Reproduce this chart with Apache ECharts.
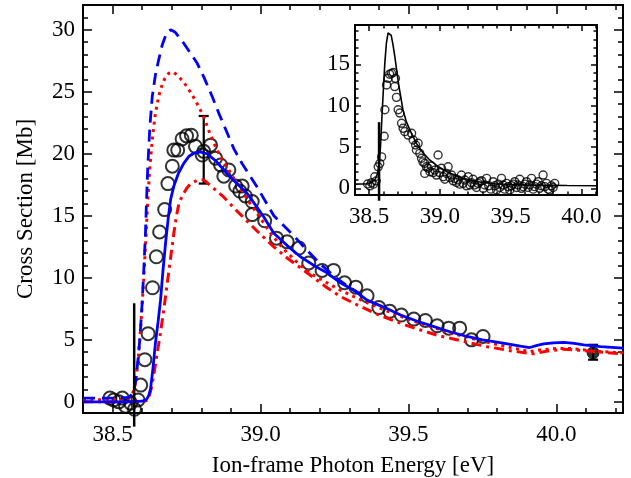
<!DOCTYPE html>
<html>
<head>
<meta charset="utf-8">
<script src="https://cdn.jsdelivr.net/npm/echarts@6/dist/echarts.min.js"></script>
<style>html,body{margin:0;padding:0;background:#fff}#c{width:631px;height:478px}</style>
</head>
<body>
<div id="c"></div>
<script>
// ---------- data ----------
const xMajorTicks = [38.5, 39.0, 39.5, 40.0];
const xMinorTicks = [38.4, 38.6, 38.7, 38.8, 38.9, 39.1, 39.2, 39.3, 39.4, 39.6, 39.7, 39.8, 39.9, 40.1, 40.2];
const yMajorTicks = [0, 5, 10, 15, 20, 25, 30];
const yMinorTicks = [1, 2, 3, 4, 6, 7, 8, 9, 11, 12, 13, 14, 16, 17, 18, 19, 21, 22, 23, 24, 26, 27, 28, 29, 31];
const insetYMajorTicks = [0, 5, 10, 15];
const insetYMinorTicks = [1, 2, 3, 4, 6, 7, 8, 9, 11, 12, 13, 14, 16, 17, 18, 19];

const blueSolid = [[38.40,0.0],[38.55,0.0],[38.60,0.05],[38.615,0.2],[38.622,0.5],[38.628,1.0],[38.636,2.6],[38.645,4.8],[38.654,6.5],[38.662,8.2],[38.670,10.5],[38.679,12.8],[38.688,14.8],[38.696,16.3],[38.707,17.4],[38.722,18.4],[38.741,19.25],[38.758,19.8],[38.775,20.05],[38.795,20.15],[38.82,20.0],[38.85,19.4],[38.887,18.4],[38.92,17.6],[38.955,16.8],[38.985,15.8],[39.011,14.9],[39.045,13.6],[39.09,12.6],[39.135,11.7],[39.18,11.0],[39.225,10.4],[39.27,9.6],[39.315,9.0],[39.36,8.2],[39.42,7.6],[39.473,7.0],[39.53,6.5],[39.586,6.07],[39.64,5.65],[39.698,5.27],[39.75,5.0],[39.788,4.86],[39.84,4.65],[39.878,4.5],[39.91,4.38],[39.935,4.55],[39.957,4.68],[39.99,4.76],[40.025,4.8],[40.06,4.72],[40.092,4.6],[40.149,4.46],[40.225,4.33]];
const blueDashed = [[38.40,0.3],[38.50,0.3],[38.555,0.35],[38.568,0.7],[38.578,1.6],[38.585,3.2],[38.592,5.0],[38.600,8.0],[38.606,10.9],[38.611,13.5],[38.614,15.75],[38.619,19.0],[38.626,22.2],[38.634,24.6],[38.645,26.4],[38.656,27.6],[38.668,28.8],[38.682,29.7],[38.696,30.0],[38.712,29.8],[38.741,28.9],[38.786,27.3],[38.81,26.1],[38.837,24.6],[38.862,23.1],[38.887,21.7],[38.91,20.4],[38.938,19.2],[38.965,18.2],[38.989,17.3],[39.045,15.0],[39.112,13.4],[39.158,12.2],[39.203,11.1],[39.25,10.1],[39.29,9.4],[39.33,8.8],[39.36,8.2]];
const redDotted = [[38.40,0.15],[38.55,0.2],[38.565,0.5],[38.575,1.2],[38.585,3.0],[38.595,6.0],[38.605,9.8],[38.612,13.0],[38.619,16.3],[38.625,18.6],[38.631,20.3],[38.638,22.0],[38.645,23.3],[38.654,24.4],[38.662,25.2],[38.675,26.0],[38.69,26.5],[38.705,26.6],[38.725,26.2],[38.752,25.4],[38.78,24.3],[38.808,23.0],[38.831,21.5],[38.855,20.2],[38.88,19.2],[38.91,18.0],[38.94,16.9],[38.97,15.8],[39.0,14.8],[39.04,13.4],[39.079,12.3],[39.13,11.1],[39.18,10.2],[39.27,9.0],[39.35,8.1],[39.45,7.1],[39.55,6.25],[39.65,5.5],[39.75,4.9],[39.85,4.35],[39.91,4.05],[39.95,4.2],[40.0,4.3],[40.05,4.3],[40.126,4.1],[40.225,3.95]];
const redDashDot = [[38.40,0.0],[38.60,0.0],[38.615,0.1],[38.623,0.4],[38.632,1.2],[38.64,2.3],[38.65,3.8],[38.662,5.6],[38.674,7.6],[38.685,9.6],[38.696,11.6],[38.707,13.6],[38.716,15.0],[38.724,16.0],[38.735,16.6],[38.75,17.2],[38.764,17.6],[38.79,17.9],[38.808,17.9],[38.842,17.2],[38.876,16.5],[38.92,15.4],[38.966,14.3],[39.0,13.5],[39.045,12.5],[39.09,11.6],[39.135,10.8],[39.18,10.0],[39.225,9.2],[39.27,8.5],[39.315,7.95],[39.4,7.0],[39.5,6.1],[39.6,5.35],[39.7,4.8],[39.765,4.45],[39.85,4.1],[39.923,3.87],[39.97,4.1],[40.025,4.25],[40.08,4.15],[40.126,4.06],[40.225,3.87]];
const mainCircles = [[38.491,0.3],[38.504,0.15],[38.521,0.0],[38.533,0.3],[38.544,-0.35],[38.561,-0.1],[38.574,-0.6],[38.586,0.15],[38.595,1.35],[38.609,3.4],[38.62,5.5],[38.635,9.2],[38.648,11.7],[38.659,13.7],[38.676,15.5],[38.687,17.6],[38.702,19.0],[38.707,20.3],[38.72,20.3],[38.735,21.2],[38.75,21.45],[38.766,21.5],[38.78,20.6],[38.803,19.9],[38.808,20.2],[38.831,20.7],[38.848,19.65],[38.865,19.1],[38.876,18.2],[38.893,18.7],[38.916,17.4],[38.93,17.0],[38.938,17.4],[38.949,16.6],[38.972,16.15],[38.972,15.1],[39.014,14.6],[39.054,13.2],[39.09,12.9],[39.13,12.4],[39.163,11.2],[39.208,10.6],[39.247,10.6],[39.284,9.6],[39.322,9.25],[39.36,8.55],[39.4,7.6],[39.437,7.3],[39.476,7.0],[39.518,6.67],[39.557,6.56],[39.597,6.13],[39.636,5.94],[39.673,5.94],[39.713,5.0],[39.752,5.27]];
const filledPoint = [[40.124, 3.95]];
const errorBars = [[38.808, 17.6, 23.05], [40.124, 3.4, 4.6]];
const threshold = [[38.573, -2.0, 7.95]];

const insetCurve = [[38.40,0.5],[38.5,0.55],[38.54,1.0],[38.56,1.8],[38.572,3.2],[38.58,5.0],[38.59,8.5],[38.60,11.8],[38.611,15.2],[38.622,17.6],[38.634,18.8],[38.645,19.0],[38.656,18.5],[38.668,17.4],[38.681,16.0],[38.695,14.2],[38.71,12.4],[38.74,9.4],[38.764,8.0],[38.8,6.6],[38.835,5.4],[38.88,4.3],[38.93,3.4],[38.99,2.6],[39.05,2.0],[39.13,1.4],[39.21,1.0],[39.3,0.7],[39.4,0.52],[39.6,0.4],[39.9,0.33],[40.11,0.3]];
const insetCircles = [[38.489,0.52],[38.505,0.3],[38.517,0.68],[38.53,0.5],[38.54,1.4],[38.55,0.9],[38.564,2.6],[38.575,3.0],[38.588,3.8],[38.606,6.3],[38.611,9.5],[38.623,12.5],[38.634,13.3],[38.645,13.8],[38.658,13.9],[38.67,14.0],[38.681,12.3],[38.686,13.3],[38.693,11.0],[38.705,9.5],[38.717,9.1],[38.729,7.86],[38.74,7.26],[38.752,6.85],[38.775,6.44],[38.8,6.65],[38.811,5.84],[38.828,5.24],[38.834,4.63],[38.846,5.44],[38.858,4.23],[38.87,3.63],[38.88,3.2],[38.893,3.02],[38.893,1.8],[38.905,2.6],[38.917,2.42],[38.93,2.0],[38.94,2.7],[38.952,1.9],[38.964,2.2],[38.976,1.6],[38.987,4.03],[38.998,1.9],[39.011,2.42],[39.023,1.4],[39.035,1.1],[39.047,1.8],[39.058,2.6],[39.07,1.3],[39.082,1.6],[39.094,0.9],[39.105,1.2],[39.117,0.7],[39.129,1.0],[39.14,0.5],[39.152,1.6],[39.164,0.6],[39.176,1.0],[39.188,0.3],[39.2,1.4],[39.212,0.4],[39.223,0.68],[39.234,1.1],[39.246,0.4],[39.258,0.1],[39.27,0.6],[39.282,0.8],[39.294,0.92],[39.306,0.0],[39.318,0.4],[39.33,1.2],[39.345,0.3],[39.36,-0.1],[39.376,0.8],[39.388,0.3],[39.4,-0.2],[39.412,0.5],[39.423,0.1],[39.435,1.2],[39.447,0.4],[39.458,-0.1],[39.47,0.6],[39.482,0.2],[39.494,-0.2],[39.505,0.3],[39.517,0.5],[39.529,0.8],[39.541,0.1],[39.552,0.4],[39.564,1.1],[39.576,0.0],[39.588,0.2],[39.6,0.5],[39.612,0.8],[39.623,0.1],[39.635,0.4],[39.647,1.2],[39.659,-0.1],[39.67,0.2],[39.682,0.5],[39.694,0.8],[39.705,0.0],[39.717,0.3],[39.729,1.6],[39.741,0.2],[39.753,0.6],[39.765,-0.1],[39.776,-0.2],[39.788,0.3],[39.8,0.1],[39.811,0.6]];
const insetThreshold = [[38.57, -1.5, 8.0]];

const xTitle = 'Ion-frame Photon Energy [eV]';
const yTitle = 'Cross Section [Mb]';

// ---------- chart ----------
const FONT = 'Liberation Serif';
const FS = 23;
const MAIN = {x: [38.4, 40.225], y: [-0.9, 32.0]};
const INSET = {x: [38.4, 40.11], y: [-0.81, 19.75]};

function xAx(grid, rng, pos, ticks, len, labelVals, name) {
  const a = {
    type: 'value', gridIndex: grid, min: rng[0], max: rng[1], position: pos,
    axisLine: {show: true, onZero: false, lineStyle: {color: '#000', width: 2}},
    axisTick: {show: true, inside: true, length: len, customValues: ticks, lineStyle: {color: '#000', width: 1.5}},
    axisLabel: labelVals ? {show: true, customValues: labelVals, formatter: v => Number(v).toFixed(1), color: '#000', fontFamily: FONT, fontSize: FS, margin: 10} : {show: false},
    splitLine: {show: false}
  };
  if (name) {
    a.name = name; a.nameLocation = 'middle'; a.nameGap = 41;
    a.nameTextStyle = {color: '#000', fontFamily: FONT, fontSize: FS};
  }
  return a;
}
function yAx(grid, rng, pos, ticks, len, labelVals, margin, name) {
  const a = {
    type: 'value', gridIndex: grid, min: rng[0], max: rng[1], position: pos,
    axisLine: {show: true, onZero: false, lineStyle: {color: '#000', width: 2}},
    axisTick: {show: true, inside: true, length: len, customValues: ticks, lineStyle: {color: '#000', width: 1.5}},
    axisLabel: labelVals ? {show: true, customValues: labelVals, formatter: v => String(Math.round(v)), color: '#000', fontFamily: FONT, fontSize: FS, margin: margin} : {show: false},
    splitLine: {show: false}
  };
  if (name) {
    a.name = name; a.nameLocation = 'middle'; a.nameGap = 46; a.nameRotate = 90;
    a.nameTextStyle = {color: '#000', fontFamily: FONT, fontSize: FS};
  }
  return a;
}

function vbar(withCaps, width, capHalf) {
  return function (params, api) {
    const x = api.value(0);
    const p1 = api.coord([x, api.value(1)]);
    const p2 = api.coord([x, api.value(2)]);
    const st = {stroke: '#000', lineWidth: width};
    const ch = [{type: 'line', shape: {x1: p1[0], y1: p1[1], x2: p2[0], y2: p2[1]}, style: st}];
    if (withCaps) {
      ch.push({type: 'line', shape: {x1: p1[0] - capHalf, y1: p1[1], x2: p1[0] + capHalf, y2: p1[1]}, style: st});
      ch.push({type: 'line', shape: {x1: p2[0] - capHalf, y1: p2[1], x2: p2[0] + capHalf, y2: p2[1]}, style: st});
    }
    return {type: 'group', children: ch};
  };
}

const chart = echarts.init(document.getElementById('c'), null, {renderer: 'canvas'});
const lineBase = {type: 'line', showSymbol: false, symbol: 'none', silent: true, animation: false, xAxisIndex: 0, yAxisIndex: 0};
chart.setOption({
  animation: false,
  backgroundColor: '#fff',
  grid: [
    {left: 83, top: 5, width: 540, height: 408, containLabel: false, outerBoundsMode: 'none'},
    {left: 355, top: 25, width: 242, height: 170, containLabel: false, outerBoundsMode: 'none', show: true, backgroundColor: '#fff', borderWidth: 0, z: 5}
  ],
  xAxis: [
    xAx(0, MAIN.x, 'bottom', xMajorTicks, 9, xMajorTicks, xTitle),
    xAx(0, MAIN.x, 'bottom', xMinorTicks, 5, null),
    xAx(0, MAIN.x, 'top', xMajorTicks, 9, null),
    xAx(0, MAIN.x, 'top', xMinorTicks, 5, null),
    Object.assign(xAx(1, INSET.x, 'bottom', xMajorTicks, 6, xMajorTicks), {z: 6}),
    Object.assign(xAx(1, INSET.x, 'bottom', xMinorTicks, 3.5, null), {z: 6}),
    Object.assign(xAx(1, INSET.x, 'top', xMajorTicks, 6, null), {z: 6}),
    Object.assign(xAx(1, INSET.x, 'top', xMinorTicks, 3.5, null), {z: 6})
  ],
  yAxis: [
    yAx(0, MAIN.y, 'left', yMajorTicks, 9, yMajorTicks, 8, yTitle),
    yAx(0, MAIN.y, 'left', yMinorTicks, 5, null),
    yAx(0, MAIN.y, 'right', yMajorTicks, 9, null),
    yAx(0, MAIN.y, 'right', yMinorTicks, 5, null),
    Object.assign(yAx(1, INSET.y, 'left', insetYMajorTicks, 6, insetYMajorTicks, 5), {z: 6}),
    Object.assign(yAx(1, INSET.y, 'left', insetYMinorTicks, 3.5, null), {z: 6}),
    Object.assign(yAx(1, INSET.y, 'right', insetYMajorTicks, 6, null), {z: 6}),
    Object.assign(yAx(1, INSET.y, 'right', insetYMinorTicks, 3.5, null), {z: 6})
  ],
  series: [
    Object.assign({}, lineBase, {data: redDashDot, lineStyle: {color: '#ff0000', width: 3, type: [10, 5, 3, 5]}}),
    Object.assign({}, lineBase, {data: redDotted, lineStyle: {color: '#ff0000', width: 3, type: [3, 4.5]}}),
    Object.assign({}, lineBase, {data: blueDashed, lineStyle: {color: '#0000ff', width: 2.8, type: [12, 7]}}),
    Object.assign({}, lineBase, {data: blueSolid, lineStyle: {color: '#0000ff', width: 2.8, type: 'solid'}}),
    {type: 'scatter', xAxisIndex: 0, yAxisIndex: 0, data: mainCircles, symbol: 'circle', symbolSize: 13, silent: true,
     itemStyle: {color: 'rgba(0,0,0,0)', borderColor: '#000', borderWidth: 2}},
    {type: 'scatter', xAxisIndex: 0, yAxisIndex: 0, data: filledPoint, symbol: 'circle', symbolSize: 12, silent: true,
     itemStyle: {color: '#000', borderColor: '#000', borderWidth: 1}},
    {type: 'custom', xAxisIndex: 0, yAxisIndex: 0, data: errorBars, encode: {x: 0, y: [1, 2]}, renderItem: vbar(true, 2.2, 5), silent: true},
    {type: 'custom', xAxisIndex: 0, yAxisIndex: 0, data: threshold, encode: {x: 0, y: [1, 2]}, renderItem: vbar(false, 2.5, 0), clip: false, silent: true, z: 10},
    {type: 'line', xAxisIndex: 4, yAxisIndex: 4, data: insetCurve, showSymbol: false, symbol: 'none', silent: true, z: 7,
     lineStyle: {color: '#000', width: 1.6}},
    {type: 'scatter', xAxisIndex: 4, yAxisIndex: 4, data: insetCircles, symbol: 'circle', symbolSize: 8, silent: true, z: 7,
     itemStyle: {color: 'rgba(0,0,0,0)', borderColor: '#000', borderWidth: 1.4}},
    {type: 'custom', xAxisIndex: 4, yAxisIndex: 4, data: insetThreshold, encode: {x: 0, y: [1, 2]}, renderItem: vbar(false, 2.5, 0), clip: false, silent: true, z: 8}
  ]
});
</script>
</body>
</html>
